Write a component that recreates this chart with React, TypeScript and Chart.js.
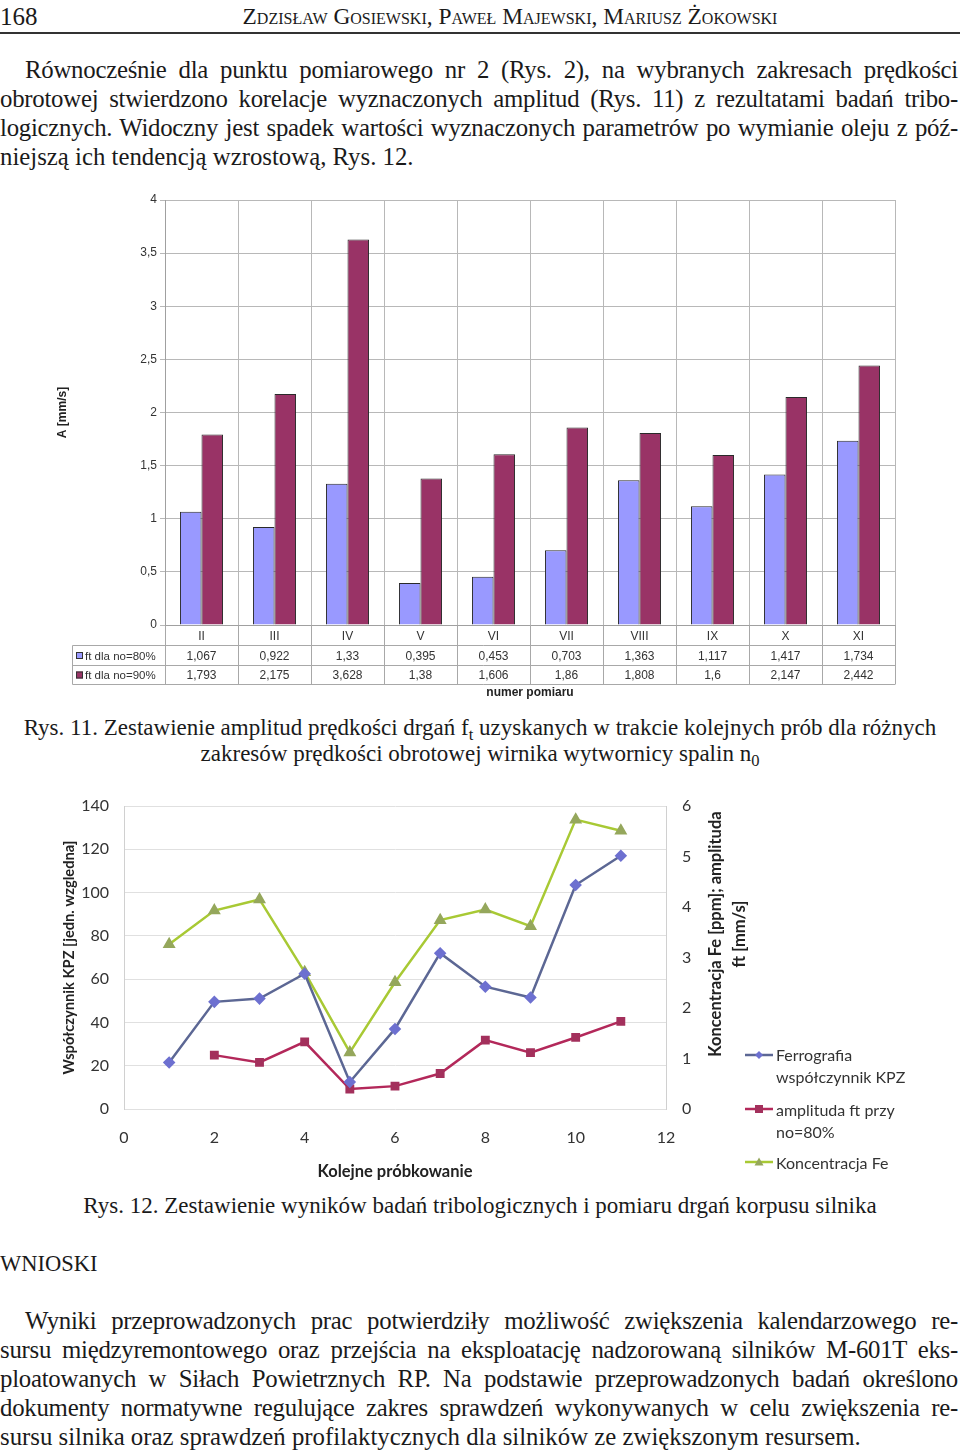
import React, { useEffect, useRef } from 'react';
import { Chart, registerables } from 'chart.js';

Chart.register(...registerables);

// ---------- Data: Rys. 11 (bar chart + data table) ----------
const barCategories = ['II', 'III', 'IV', 'V', 'VI', 'VII', 'VIII', 'IX', 'X', 'XI'];
const ft80 = [1.067, 0.922, 1.33, 0.395, 0.453, 0.703, 1.363, 1.117, 1.417, 1.734];
const ft90 = [1.793, 2.175, 3.628, 1.38, 1.606, 1.86, 1.808, 1.6, 2.147, 2.442];
const barSeriesNames = ['ft dla no=80%', 'ft dla no=90%'];
const barYTicks = [0, 0.5, 1, 1.5, 2, 2.5, 3, 3.5, 4];

// ---------- Data: Rys. 12 (line chart) ----------
const kpzSamples = [1, 2, 3, 4, 5, 6, 7, 8, 9, 10, 11];
const kpzValues = [21.5, 49.5, 51, 62.5, 12.5, 37, 72, 56.5, 51.5, 103.5, 117];
const ampSamples = [2, 3, 4, 5, 6, 7, 8, 9, 10, 11];
const ampValues = [1.067, 0.922, 1.33, 0.395, 0.453, 0.703, 1.363, 1.117, 1.417, 1.734];
const feSamples = [1, 2, 3, 4, 5, 6, 7, 8, 9, 10, 11];
const feValues = [3.26, 3.93, 4.15, 2.71, 1.12, 2.51, 3.74, 3.95, 3.62, 5.73, 5.51];
const lineSeriesNames = ['Ferrografia współczynnik KPZ', 'amplituda ft przy no=80%', 'Koncentracja Fe'];

const BLUE = '#9999ff';
const MAROON = '#993366';
const KPZ_LINE = '#5c6794';
const KPZ_PT = '#6d70d0';
const AMP_LINE = '#b3285a';
const AMP_PT = '#a3305c';
const FE_LINE = '#a8c934';
const FE_PT = '#95a75c';

const narrow = "'Liberation Sans Narrow', 'Liberation Sans', Arial, sans-serif";
const sans = "Lato, 'Open Sans', sans-serif";
const serif = "'Liberation Serif', 'Times New Roman', serif";

const fmt = (v: number) => String(v).replace('.', ',');

const tablePlugin = {
  id: 'dataTable',
  afterDraw(chart: any) {
    const { ctx, chartArea } = chart;
    const n = barCategories.length;
    const colW = (chartArea.right - chartArea.left) / n;
    const y0 = Math.round(chartArea.bottom) + 0.5;
    const y1 = y0 + 20;
    const y2 = y1 + 20;
    const y3 = y2 + 19;
    const leftX = 22.5;
    ctx.save();
    ctx.strokeStyle = '#a8a8a8';
    ctx.lineWidth = 1;
    ctx.beginPath();
    [y1, y2, y3].forEach((y) => {
      ctx.moveTo(leftX, y);
      ctx.lineTo(chartArea.right, y);
    });
    for (let i = 0; i <= n; i++) {
      const xb = Math.round(chartArea.left + i * colW) + 0.5;
      ctx.moveTo(xb, y0);
      ctx.lineTo(xb, y3);
    }
    ctx.moveTo(leftX, y1);
    ctx.lineTo(leftX, y3);
    ctx.stroke();

    ctx.font = `12px ${narrow}`;
    ctx.fillStyle = '#333';
    ctx.textBaseline = 'middle';
    ctx.textAlign = 'center';
    const rows = [ft80, ft90];
    const rowY = [(y1 + y2) / 2, (y2 + y3) / 2];
    rows.forEach((vals, r) => {
      vals.forEach((v, i) => {
        const cx = chartArea.left + (i + 0.5) * colW;
        ctx.fillText(fmt(v), cx, rowY[r] + 1);
      });
    });
    const colors = [BLUE, MAROON];
    ctx.textAlign = 'left';
    ctx.font = `11.5px ${narrow}`;
    barSeriesNames.forEach((name, r) => {
      ctx.fillStyle = colors[r];
      ctx.fillRect(26, rowY[r] - 3.5, 7, 7);
      ctx.strokeStyle = '#333';
      ctx.strokeRect(26.5, rowY[r] - 3, 6, 6);
      ctx.fillStyle = '#333';
      ctx.fillText(name, 35, rowY[r] + 1);
    });
    ctx.restore();
  },
};

const rightTitlePlugin = {
  id: 'rightTitle',
  afterDraw(chart: any) {
    const { ctx } = chart;
    ctx.save();
    ctx.font = `bold 16.5px ${sans}`;
    ctx.fillStyle = '#222';
    ctx.textAlign = 'center';
    ctx.textBaseline = 'middle';
    const lines = ['Koncentracja Fe [ppm]; amplituda', 'ft [mm/s]'];
    lines.forEach((t, i) => {
      ctx.save();
      ctx.translate(666 + i * 24, 139);
      ctx.rotate(-Math.PI / 2);
      ctx.fillText(t, 0, 0);
      ctx.restore();
    });
    ctx.restore();
  },
};

function BarChart() {
  const ref = useRef<HTMLCanvasElement | null>(null);
  useEffect(() => {
    if (!ref.current) return;
    const chart = new Chart(ref.current, {
      type: 'bar',
      data: {
        labels: barCategories,
        datasets: [
          {
            label: barSeriesNames[0],
            data: ft80,
            backgroundColor: BLUE,
            borderColor: '#2a2a2a',
            borderWidth: 1,
            categoryPercentage: 0.59,
            barPercentage: 1,
          },
          {
            label: barSeriesNames[1],
            data: ft90,
            backgroundColor: MAROON,
            borderColor: '#2a2a2a',
            borderWidth: 1,
            categoryPercentage: 0.59,
            barPercentage: 1,
          },
        ],
      },
      options: {
        responsive: false,
        animation: false,
        layout: { padding: { left: 0, right: 15, top: 10, bottom: 0 } },
        plugins: { legend: { display: false }, tooltip: { enabled: false } },
        scales: {
          x: {
            grid: { color: '#b8b8b8', drawTicks: false, offset: true },
            border: { color: '#a0a0a0' },
            ticks: { font: { family: narrow, size: 12 }, color: '#333', padding: 4 },
            title: {
              display: true,
              text: 'numer pomiaru',
              font: { family: narrow, size: 12, weight: 'bold' },
              color: '#222',
              padding: { top: 0, bottom: 10 },
            },
            afterFit: (s: any) => {
              s.height = 85;
            },
          },
          y: {
            min: 0,
            max: 4,
            afterBuildTicks: (s: any) => {
              s.ticks = barYTicks.map((v) => ({ value: v }));
            },
            ticks: {
              callback: (v: any) => fmt(Number(v)),
              font: { family: narrow, size: 12 },
              color: '#333',
              padding: 3,
            },
            grid: { color: '#b8b8b8', tickLength: 5 },
            border: { color: '#a0a0a0' },
            title: {
              display: true,
              text: 'A [mm/s]',
              font: { family: narrow, size: 12, weight: 'bold' },
              color: '#222',
              padding: { top: 5, bottom: 0 },
            },
            afterFit: (s: any) => {
              s.width = 115;
              s.paddingTop = 0;
              s.paddingBottom = 0;
            },
          },
        },
      } as any,
      plugins: [tablePlugin],
    });
    return () => chart.destroy();
  }, []);
  return <canvas ref={ref} width={860} height={520} style={{ position: 'absolute', left: 50, top: 190, width: 860, height: 520 }} />;
}

function LineChart() {
  const ref = useRef<HTMLCanvasElement | null>(null);
  useEffect(() => {
    if (!ref.current) return;
    const chart = new Chart(ref.current, {
      type: 'line',
      data: {
        datasets: [
          {
            label: lineSeriesNames[0],
            data: kpzSamples.map((x, i) => ({ x, y: kpzValues[i] })),
            yAxisID: 'y',
            borderColor: KPZ_LINE,
            backgroundColor: KPZ_PT,
            pointBackgroundColor: KPZ_PT,
            pointBorderColor: KPZ_PT,
            pointStyle: 'rectRot',
            pointRadius: 4.5,
            borderWidth: 2.5,
          },
          {
            label: lineSeriesNames[1],
            data: ampSamples.map((x, i) => ({ x, y: ampValues[i] })),
            yAxisID: 'y1',
            borderColor: AMP_LINE,
            backgroundColor: AMP_PT,
            pointBackgroundColor: AMP_PT,
            pointBorderColor: AMP_PT,
            pointStyle: 'rect',
            pointRadius: 4.5,
            borderWidth: 2.5,
          },
          {
            label: lineSeriesNames[2],
            data: feSamples.map((x, i) => ({ x, y: feValues[i] })),
            yAxisID: 'y1',
            borderColor: FE_LINE,
            backgroundColor: FE_PT,
            pointBackgroundColor: FE_PT,
            pointBorderColor: FE_PT,
            pointStyle: 'triangle',
            pointRadius: 5,
            borderWidth: 2.5,
          },
        ],
      },
      options: {
        responsive: false,
        animation: false,
        layout: { padding: { left: 0, right: 0, top: 11, bottom: 0 } },
        plugins: { legend: { display: false }, tooltip: { enabled: false } },
        scales: {
          x: {
            type: 'linear',
            min: 0,
            max: 12,
            ticks: { stepSize: 2, font: { family: sans, size: 16 }, color: '#333', padding: 19 },
            grid: { display: false, drawTicks: false },
            border: { display: false },
            title: {
              display: true,
              text: 'Kolejne próbkowanie',
              font: { family: sans, size: 16.5, weight: 'bold' },
              color: '#222',
              padding: { top: 0, bottom: 8 },
            },
            afterFit: (s: any) => {
              s.height = 81;
            },
          },
          y: {
            position: 'left',
            min: 0,
            max: 140,
            ticks: { stepSize: 20, font: { family: sans, size: 16 }, color: '#333', padding: 15 },
            grid: { color: '#e0e0e0', drawTicks: false },
            border: { color: '#d0d0d0' },
            title: {
              display: true,
              text: 'Współczynnik KPZ [jedn. wzgledna]',
              font: { family: sans, size: 14.7, weight: 'bold' },
              color: '#222',
              padding: { top: 10, bottom: 0 },
            },
            afterFit: (s: any) => {
              s.width = 74;
              s.paddingTop = 0;
              s.paddingBottom = 0;
            },
          },
          y1: {
            position: 'right',
            min: 0,
            max: 6,
            ticks: { stepSize: 1, font: { family: sans, size: 16 }, color: '#333', padding: 16 },
            grid: { display: false, drawTicks: false },
            border: { color: '#d0d0d0' },
            afterFit: (s: any) => {
              s.width = 244;
              s.paddingTop = 0;
              s.paddingBottom = 0;
            },
          },
        },
      } as any,
      plugins: [rightTitlePlugin],
    });
    return () => chart.destroy();
  }, []);
  return <canvas ref={ref} width={860} height={395} style={{ position: 'absolute', left: 50, top: 795, width: 860, height: 395 }} />;
}

function LegendMarker({ color, ptColor, shape }: { color: string; ptColor: string; shape: string }) {
  let pt: React.ReactNode = null;
  if (shape === 'diamond') pt = <polygon points="14,3 18,7 14,11 10,7" fill={ptColor} />;
  if (shape === 'square') pt = <rect x={10} y={3} width={8} height={8} fill={ptColor} />;
  if (shape === 'triangle') pt = <polygon points="14,2.5 18.5,10.5 9.5,10.5" fill={ptColor} />;
  return (
    <svg width={28} height={14} style={{ display: 'block' }}>
      <line x1={0} y1={7} x2={28} y2={7} stroke={color} strokeWidth={2.5} />
      {pt}
    </svg>
  );
}

const just: React.CSSProperties = {
  position: 'absolute',
  left: 0,
  width: 958,
  whiteSpace: 'nowrap',
  textAlign: 'justify',
  textAlignLast: 'justify',
  letterSpacing: '-0.25px',
};

function TextLine({ top, children, indent = 0, justify = true }: { top: number; children: React.ReactNode; indent?: number; justify?: boolean }) {
  const style: React.CSSProperties = justify
    ? { ...just, top, left: indent, width: 958 - indent }
    : { position: 'absolute', top, left: indent, whiteSpace: 'nowrap' };
  return <div style={style}>{children}</div>;
}

const sub: React.CSSProperties = { fontSize: '0.72em', verticalAlign: '-0.3em', lineHeight: 0 };

export default function App() {
  const para1 = [
    'Równocześnie dla punktu pomiarowego nr 2 (Rys. 2), na wybranych zakresach prędkości',
    'obrotowej stwierdzono korelacje wyznaczonych amplitud (Rys. 11) z rezultatami badań tribo-',
    'logicznych. Widoczny jest spadek wartości wyznaczonych parametrów po wymianie oleju z póź-',
    'niejszą ich tendencją wzrostową, Rys. 12.',
  ];
  const para2 = [
    'Wyniki przeprowadzonych prac potwierdziły możliwość zwiększenia kalendarzowego re-',
    'sursu międzyremontowego oraz przejścia na eksploatację nadzorowaną silników M-601T eks-',
    'ploatowanych w Siłach Powietrznych RP. Na podstawie przeprowadzonych badań określono',
    'dokumenty normatywne regulujące zakres sprawdzeń wykonywanych w celu zwiększenia re-',
    'sursu silnika oraz sprawdzeń profilaktycznych dla silników ze zwiększonym resursem.',
  ];
  return (
    <div
      style={{
        position: 'absolute',
        left: 0,
        top: 0,
        width: 960,
        height: 1452,
        background: '#fff',
        overflow: 'hidden',
        fontFamily: serif,
        color: '#1a1a1a',
      }}
    >
      {/* header */}
      <div style={{ position: 'absolute', left: 0, top: 2, fontSize: 25, lineHeight: '29px' }}>168</div>
      <div
        style={{
          position: 'absolute',
          left: 0,
          width: 1020,
          top: 2,
          textAlign: 'center',
          fontSize: 23.4,
          lineHeight: '29px',
          fontVariant: 'small-caps',
        }}
      >
        Zdzisław Gosiewski, Paweł Majewski, Mariusz Żokowski
      </div>
      <div style={{ position: 'absolute', left: 0, top: 32, width: 960, height: 1.5, background: '#333' }} />

      {/* paragraph 1 */}
      <div style={{ fontSize: 24.8, lineHeight: '29px' }}>
        {para1.map((t, i) => (
          <TextLine key={i} top={55 + i * 29} indent={i === 0 ? 25 : 0} justify={i < para1.length - 1}>
            {t}
          </TextLine>
        ))}
      </div>

      <BarChart />

      {/* caption 11 */}
      <div style={{ position: 'absolute', left: 0, width: 960, top: 715, textAlign: 'center', fontSize: 23, lineHeight: '26px' }}>
        Rys. 11. Zestawienie amplitud prędkości drgań f<span style={sub}>t</span> uzyskanych w trakcie kolejnych prób dla różnych
        <br />
        zakresów prędkości obrotowej wirnika wytwornicy spalin n<span style={sub}>0</span>
      </div>

      <LineChart />

      {/* legend for Rys. 12 */}
      <div style={{ position: 'absolute', left: 0, top: 0, fontFamily: sans, fontSize: 16, lineHeight: '22px', color: '#333' }}>
        <div style={{ position: 'absolute', left: 745, top: 1048 }}>
          <LegendMarker color={KPZ_LINE} ptColor={KPZ_PT} shape="diamond" />
        </div>
        <div style={{ position: 'absolute', left: 776, top: 1044, whiteSpace: 'nowrap' }}>
          Ferrografia
          <br />
          współczynnik KPZ
        </div>
        <div style={{ position: 'absolute', left: 745, top: 1102 }}>
          <LegendMarker color={AMP_LINE} ptColor={AMP_PT} shape="square" />
        </div>
        <div style={{ position: 'absolute', left: 776, top: 1099, whiteSpace: 'nowrap' }}>
          amplituda ft przy
          <br />
          no=80%
        </div>
        <div style={{ position: 'absolute', left: 745, top: 1155 }}>
          <LegendMarker color={FE_LINE} ptColor={FE_PT} shape="triangle" />
        </div>
        <div style={{ position: 'absolute', left: 776, top: 1152, whiteSpace: 'nowrap' }}>Koncentracja Fe</div>
      </div>

      {/* caption 12 */}
      <div style={{ position: 'absolute', left: 0, width: 960, top: 1193, textAlign: 'center', fontSize: 23, lineHeight: '26px' }}>
        Rys. 12. Zestawienie wyników badań tribologicznych i pomiaru drgań korpusu silnika
      </div>

      {/* WNIOSKI */}
      <div style={{ position: 'absolute', left: 0, top: 1249, fontSize: 22.5, lineHeight: '29px' }}>WNIOSKI</div>

      {/* paragraph 2 */}
      <div style={{ fontSize: 24.8, lineHeight: '29px' }}>
        {para2.map((t, i) => (
          <TextLine key={i} top={1306 + i * 29} indent={i === 0 ? 25 : 0} justify={i < para2.length - 1}>
            {t}
          </TextLine>
        ))}
      </div>
    </div>
  );
}
